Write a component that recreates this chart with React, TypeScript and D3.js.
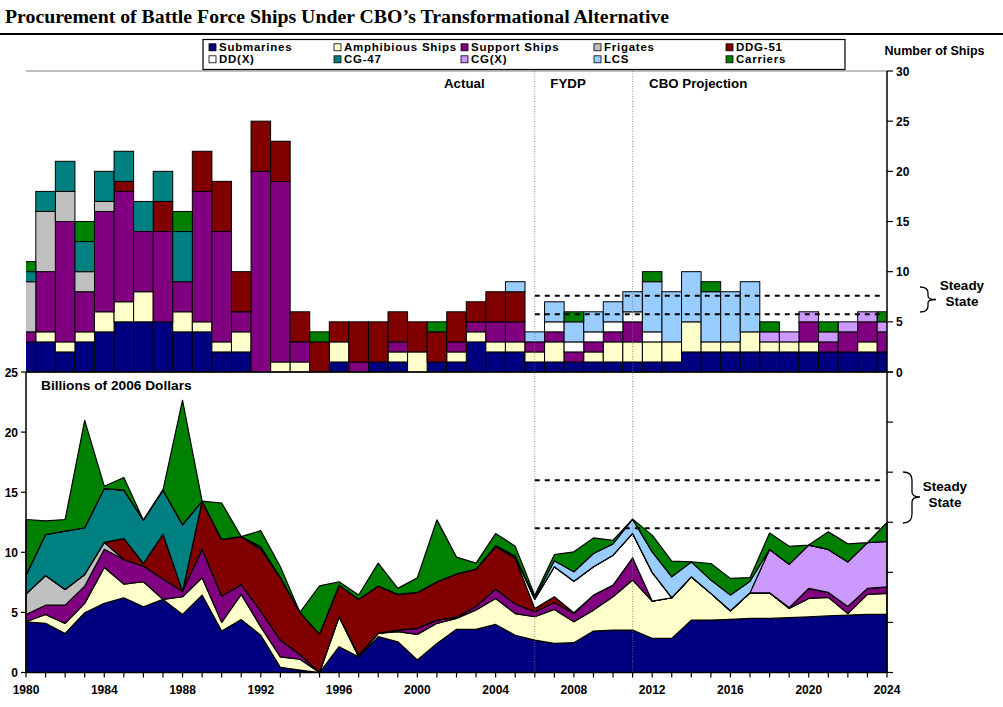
import React from 'react';
import * as d3 from 'd3';

const years = [1980,1981,1982,1983,1984,1985,1986,1987,1988,1989,1990,1991,1992,1993,1994,1995,1996,1997,1998,1999,2000,2001,2002,2003,2004,2005,2006,2007,2008,2009,2010,2011,2012,2013,2014,2015,2016,2017,2018,2019,2020,2021,2022,2023,2024];

const seriesKeys = ['Submarines','Amphibious Ships','Support Ships','Frigates','DDG-51','DD(X)','CG-47','CG(X)','LCS','Carriers'];
const seriesColors = ['#000080','#FFFFCC','#800080','#C0C0C0','#800000','#FFFFFF','#008080','#CC99FF','#99CCFF','#008000'];
// legend order (column-major, two rows)
const legendOrder = ['Submarines','DD(X)','Amphibious Ships','CG-47','Support Ships','CG(X)','Frigates','LCS','DDG-51','Carriers'];

// Number of ships per year
const shipsSub   = [3,3,2,3,4,5,5,5,4,4, 2,2,0,0,0,0,1,0,1,1, 0,1,1,3,2,2,1,1,1,1, 1,1,1,1,2,2,2,2,2,2, 2,2,2,2,2];
const shipsAmph  = [0,1,1,1,2,2,3,0,2,1, 1,2,0,1,1,0,2,0,0,1, 2,0,1,1,1,1,1,2,0,1, 2,2,2,2,3,1,1,2,1,1, 1,0,0,1,0];
const shipsSup   = [1,6,12,4,10,11,6,9,3,13, 11,2,20,18,2,0,0,1,0,1, 0,0,1,1,2,2,1,1,1,1, 1,2,0,0,0,0,0,0,0,0, 2,1,2,2,2];
const shipsFrig  = [5,6,3,2,1,0,0,0,0,0, 0,0,0,0,0,0,0,0,0,0, 0,0,0,0,0,0,0,0,0,0, 0,0,0,0,0,0,0,0,0,0, 0,0,0,0,0];
const shipsDDG   = [0,0,0,0,0,1,0,3,0,4, 5,4,5,4,3,3,2,4,4,3, 3,3,3,2,3,3,0,0,0,0, 0,0,0,0,0,0,0,0,0,0, 0,0,0,0,0];
const shipsDDX   = [0,0,0,0,0,0,0,0,0,0, 0,0,0,0,0,0,0,0,0,0, 0,0,0,0,0,0,0,1,1,1, 1,1,1,0,0,0,0,0,0,0, 0,0,0,0,0];
const shipsCG47  = [1,2,3,3,3,3,3,3,5,0, 0,0,0,0,0,0,0,0,0,0, 0,0,0,0,0,0,0,0,0,0, 0,0,0,0,0,0,0,0,0,0, 0,0,0,0,0];
const shipsCGX   = [0,0,0,0,0,0,0,0,0,0, 0,0,0,0,0,0,0,0,0,0, 0,0,0,0,0,0,0,0,0,0, 0,0,0,0,0,0,0,0,1,1, 1,1,1,1,1];
const shipsLCS   = [0,0,0,0,0,0,0,0,0,0, 0,0,0,0,0,0,0,0,0,0, 0,0,0,0,0,1,1,2,2,2, 2,2,5,5,5,5,5,5,0,0, 0,0,0,0,0];
const shipsCarr  = [1,0,0,2,0,0,0,0,2,0, 0,0,0,0,0,1,0,0,0,0, 0,1,0,0,0,0,0,0,1,0, 0,0,1,0,0,1,0,0,1,0, 0,1,0,0,1];

// Billions of 2006 dollars per year
const costSub   = [4.22,4.09,3.25,4.97,5.75,6.22,5.47,6.08,4.83,6.44, 3.45,4.4,3.1,0.43,0.2,0,2.15,1.3,2.98,2.56, 1.04,2.42,3.59,3.59,4.0,3.1,2.7,2.42,2.48,3.45, 3.53,3.53,2.84,2.84,4.36,4.36,4.42,4.5,4.5,4.56, 4.64,4.72,4.78,4.83,4.86];
const costAmph  = [0,0.74,0.84,0.78,2.99,1.13,2.08,0,1.47,1.44, 0.72,2.1,0.7,0.87,0.9,0,2.49,0,0.27,0.84, 2.13,1.67,0.91,1.61,2.16,1.8,1.94,2.83,1.74,1.74, 2.77,4.16,3.1,3.38,3.6,2.22,0.72,2.13,2.13,0.77, 1.52,1.53,0.12,1.67,1.72];
const costSup   = [0.61,0.77,1.51,1.44,1.52,2.05,1.3,1.69,0.47,2.38, 2.19,0.8,1.3,1.4,0.4,0,0,0.15,0,0.13, 0.5,0.27,0.1,0.3,0.78,0.8,0.42,0.58,0.68,1.25, 0.97,1.85,0,0,0,0,0,0,0,0.07, 0.84,0.41,0.6,0.5,0.55];
const costFrig  = [1.69,2.47,1.31,0.97,0.56,0,0,0,0,0, 0,0,0,0,0,0,0,0,0,0, 0,0,0,0,0,0,0,0,0,0, 0,0,0,0,0,0,0,0,0,0, 0,0,0,0,0];
const costDDG   = [0,0,0,0,0,1.75,0.22,3.73,0,3.99, 4.71,4.0,5.16,5.2,3.5,3.2,2.63,4.65,3.95,2.97, 2.99,3.19,3.6,3.1,3.52,3.8,0.27,0.47,0.07,0, 0,0,0,0,0,0,0,0,0,0, 0,0,0,0,0];
const costDDX   = [0,0,0,0,0,0,0,0,0,0, 0,0,0,0,0,0,0,0,0,0, 0,0,0,0,0.1,0.15,0.77,2.5,2.63,2.36, 2.49,2.03,2.39,0,0,0,0,0,0,0, 0,0,0,0,0];
const costCG47  = [1.58,3.41,4.85,3.88,4.48,4.02,3.6,3.67,5.53,0, 0,0,0.2,0,0,0,0,0,0,0, 0,0,0,0,0,0,0,0,0,0, 0,0,0,0,0,0,0,0,0,0, 0,0,0,0,0];
const costCGX   = [0,0,0,0,0,0,0,0,0,0, 0,0,0,0,0,0,0,0,0,0, 0,0,0,0,0,0,0,0,0,0, 0,0,0,0,0,0,0,0,3.61,3.6, 3.6,3.58,3.7,3.8,3.77];
const costLCS   = [0,0,0,0,0,0,0,0,0,0, 0,0,0,0,0,0,0,0,0,0, 0,0,0,0,0,0.05,0.1,0.5,0.78,1.1, 0.94,1.19,1.71,1.74,1.24,1.11,1.3,0.97,0,0, 0,0,0,0,0];
const costCarr  = [4.63,1.14,0.97,8.94,0.2,1.05,0,0,10.35,0, 3.03,0,1.34,0.9,0,4.0,0.28,0.35,1.9,0.5, 1.22,5.15,1.4,0.5,1.0,0.81,0.2,0.5,1.66,1.3, 0.3,0,1.39,1.31,0,1.38,1.39,0.3,1.36,1.5, 0,1.46,1.5,0,1.58];

const shipSeries = [shipsSub,shipsAmph,shipsSup,shipsFrig,shipsDDG,shipsDDX,shipsCG47,shipsCGX,shipsLCS,shipsCarr];
const costSeries = [costSub,costAmph,costSup,costFrig,costDDG,costDDX,costCG47,costCGX,costLCS,costCarr];

const shipTicks = [0,5,10,15,20,25,30];
const costTicks = [0,5,10,15,20,25];
const rightCostTicks = [0,5,10,15,20,25,30];
const yearLabels = [1980,1984,1988,1992,1996,2000,2004,2008,2012,2016,2020,2024];
const steadyShips = [5.75, 7.6];
const steadyCost = [12, 16];
const phaseYears = [2006, 2011];
const phaseLabels = [{t:'Actual', yr:2002.4}, {t:'FYDP', yr:2007.7}, {t:'CBO Projection', yr:2014.35}];

const FONT = '"Liberation Sans", Arial, sans-serif';

export default function App() {
  const W = 1003, H = 707;
  const x = d3.scaleLinear().domain([1980, 2024]).range([26, 887]);
  const bw = x(1981) - x(1980);
  const yS = d3.scaleLinear().domain([0, 30]).range([372, 71]);
  const yC = d3.scaleLinear().domain([0, 25]).range([672.5, 372]);
  const yR = d3.scaleLinear().domain([0, 30]).range([672.5, 372]);

  const mkRows = (arrs: number[][]) => years.map((yr, i) => {
    const o: any = { year: yr };
    seriesKeys.forEach((k, j) => { o[k] = arrs[j][i]; });
    return o;
  });
  const stack = d3.stack<any>().keys(seriesKeys);
  const shipStack = stack(mkRows(shipSeries));
  const costStack = stack(mkRows(costSeries));

  const area = d3.area<any>()
    .x((d: any) => x(d.data.year))
    .y0((d: any) => yC(d[0]))
    .y1((d: any) => yC(d[1]));

  const legendCols = [209, 334, 461, 594, 726];

  return (
    <svg width={W} height={H} style={{ position: 'absolute', left: 0, top: 0, background: '#fff' }} fontFamily={FONT}>
      <defs>
        <clipPath id="plotclip"><rect x={26} y={60} width={861} height={320} /></clipPath>
      </defs>
      <rect x={0} y={0} width={W} height={H} fill="#fff" />
      <text x={5} y={23} fontFamily='"Liberation Serif", "Times New Roman", serif' fontWeight="bold" fontSize={19.8}>Procurement of Battle Force Ships Under CBO’s Transformational Alternative</text>
      <line x1={0} x2={W} y1={34} y2={34} stroke="#000" strokeWidth={2} />

      {/* top plot border */}
      <line x1={26} x2={887} y1={71} y2={71} stroke="#aaa" strokeWidth={1.5} />

      {/* bars */}
      <g clipPath="url(#plotclip)">
        {shipStack.map((s, j) => (
          <g key={j}>
            {s.map((d: any, i: number) => d[1] - d[0] > 0 ? (
              <rect key={i} x={x(d.data.year) - bw / 2} width={bw} y={yS(d[1])} height={yS(d[0]) - yS(d[1])}
                fill={seriesColors[j]} stroke="#000" strokeWidth={1} />
            ) : null)}
          </g>
        ))}
      </g>
      <line x1={26} x2={887} y1={372} y2={372} stroke="#000" strokeWidth={1.5} />

      {/* top steady-state lines */}
      {steadyShips.map((v, i) => (
        <line key={i} x1={x(2006)} x2={883} y1={yS(v)} y2={yS(v)} stroke="#000" strokeWidth={2} strokeDasharray="5,5" />
      ))}

      {/* areas */}
      {costStack.map((s, j) => (
        <path key={j} d={area(s) || ''} fill={seriesColors[j]} stroke="#000" strokeWidth={1.2} strokeLinejoin="round" />
      ))}

      {/* bottom steady-state lines */}
      {steadyCost.map((v, i) => (
        <line key={i} x1={x(2006)} x2={883} y1={yC(v)} y2={yC(v)} stroke="#000" strokeWidth={2} strokeDasharray="5,5" />
      ))}

      {/* phase dividers */}
      {phaseYears.map((yr, i) => (
        <line key={i} x1={x(yr)} x2={x(yr)} y1={71} y2={672.5} stroke="#777" strokeWidth={0.8} strokeDasharray="1,1.5" />
      ))}
      {phaseLabels.map((p, i) => (
        <text key={i} x={x(p.yr)} y={87.5} textAnchor="middle" fontWeight="bold" fontSize={13.3}>{p.t}</text>
      ))}

      {/* right axis top */}
      <line x1={887} x2={887} y1={71} y2={372} stroke="#000" strokeWidth={1.5} />
      {shipTicks.map(t => (
        <g key={t}>
          <line x1={887} x2={893} y1={yS(t)} y2={yS(t)} stroke="#000" strokeWidth={1.2} />
          <text x={896} y={yS(t) + 4.5} fontWeight="bold" fontSize={12}>{t}</text>
        </g>
      ))}
      <text x={934.5} y={54.5} textAnchor="middle" fontWeight="bold" fontSize={12.5}>Number of Ships</text>

      {/* bottom axes */}
      <line x1={26} x2={26} y1={372} y2={672.5} stroke="#000" strokeWidth={1.5} />
      {costTicks.map(t => (
        <g key={t}>
          <line x1={21} x2={26} y1={yC(t)} y2={yC(t)} stroke="#000" strokeWidth={1.2} />
          <text x={18} y={yC(t) + 4.5} textAnchor="end" fontWeight="bold" fontSize={12}>{t}</text>
        </g>
      ))}
      <line x1={887} x2={887} y1={372} y2={672.5} stroke="#000" strokeWidth={1.5} />
      {rightCostTicks.map(t => (
        <line key={t} x1={887} x2={893} y1={yR(t)} y2={yR(t)} stroke="#000" strokeWidth={1.2} />
      ))}
      <line x1={26} x2={887} y1={672.5} y2={672.5} stroke="#000" strokeWidth={1.5} />
      {years.map(yr => (
        <line key={yr} x1={x(yr)} x2={x(yr)} y1={672.5} y2={677.5} stroke="#000" strokeWidth={1.2} />
      ))}
      {yearLabels.map(yr => (
        <text key={yr} x={x(yr)} y={694} textAnchor="middle" fontWeight="bold" fontSize={12}>{yr}</text>
      ))}
      <text x={41} y={390} fontWeight="bold" fontSize={13.7}>Billions of 2006 Dollars</text>

      {/* steady state annotations */}
      <path d="M920,287 Q928,287 928,293 L928,296 Q928,299.5 936,299.5 Q928,299.5 928,303 L928,306 Q928,312 920,312" fill="none" stroke="#000" strokeWidth={1.3} />
      <text x={962} y={289.5} textAnchor="middle" fontWeight="bold" fontSize={13.5}>Steady</text>
      <text x={962} y={305.5} textAnchor="middle" fontWeight="bold" fontSize={13.5}>State</text>
      <path d="M903,472 Q912,472 912,480 L912,492 Q912,497 920,497 Q912,497 912,502 L912,514 Q912,523 903,523" fill="none" stroke="#000" strokeWidth={1.3} />
      <text x={945} y={490.5} textAnchor="middle" fontWeight="bold" fontSize={13.5}>Steady</text>
      <text x={945} y={507} textAnchor="middle" fontWeight="bold" fontSize={13.5}>State</text>

      {/* legend */}
      <rect x={203} y={39.5} width={642} height={30} fill="#fff" stroke="#000" strokeWidth={1.2} />
      {legendOrder.map((k, i) => {
        const col = Math.floor(i / 2), row = i % 2;
        const lx = legendCols[col];
        const ly = row === 0 ? 47.3 : 59.3;
        const c = seriesColors[seriesKeys.indexOf(k)];
        return (
          <g key={k}>
            <rect x={lx} y={ly - 3.5} width={7} height={7} fill={c} stroke="#000" strokeWidth={0.8} />
            <text x={lx + 10} y={ly + 4} fontWeight="bold" fontSize={11.5} letterSpacing={0.75}>{k}</text>
          </g>
        );
      })}
    </svg>
  );
}
